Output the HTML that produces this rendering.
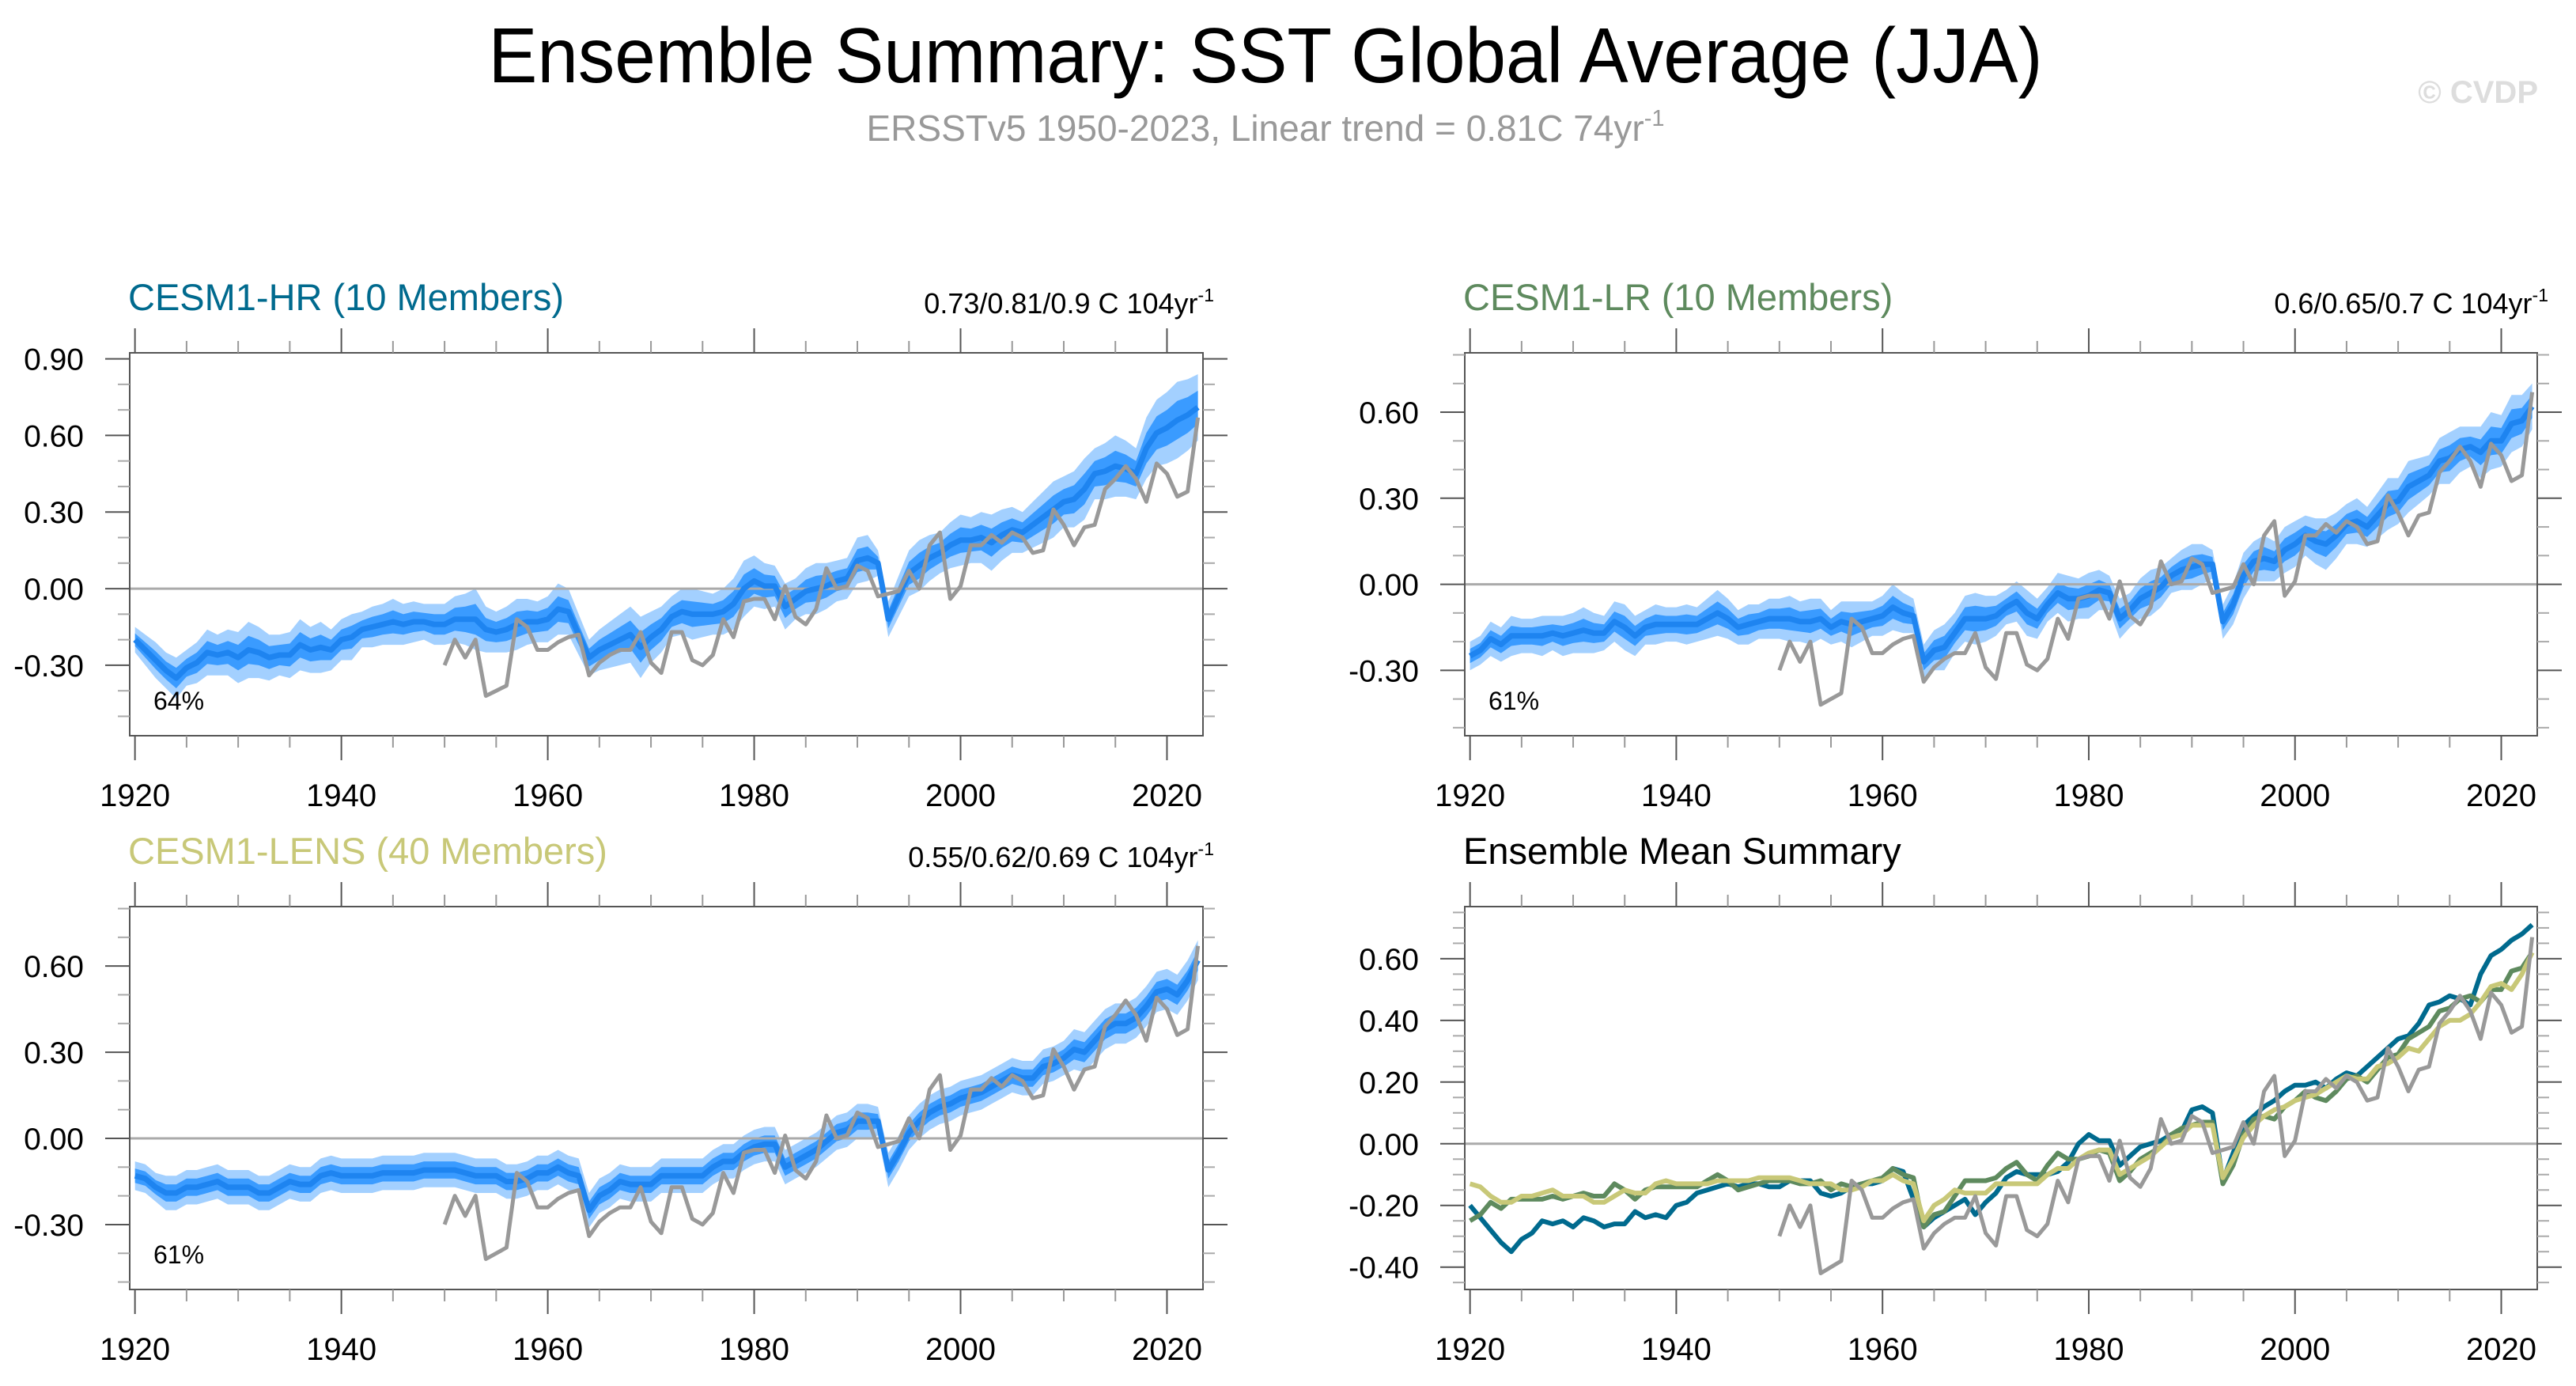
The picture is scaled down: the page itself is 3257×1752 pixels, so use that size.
<!DOCTYPE html>
<html><head><meta charset="utf-8"><style>
html,body{margin:0;padding:0;background:#fff}
svg{display:block;font-family:"Liberation Sans",sans-serif}
</style></head><body>
<svg id="chart" width="3257" height="1752" viewBox="0 0 3257 1752" xmlns="http://www.w3.org/2000/svg">
<rect x="0" y="0" width="3257" height="1752" fill="#fff"/>
<text x="1600" y="104" font-size="98" text-anchor="middle" textLength="1965" lengthAdjust="spacingAndGlyphs" fill="#000">Ensemble Summary: SST Global Average (JJA)</text>
<text x="1600" y="178" font-size="46" text-anchor="middle" fill="#999">ERSSTv5 1950-2023, Linear trend = 0.81C 74yr<tspan dy="-19" font-size="29">-1</tspan></text>
<text x="3209" y="130" font-size="40" text-anchor="end" fill="#ddd" font-weight="bold">© CVDP</text>
<g id="plots"></g>
</svg>
<script>
const years = []; for (let y = 1920; y <= 2023; y++) years.push(y);
const obsYears = []; for (let y = 1950; y <= 2023; y++) obsYears.push(y);
const obs = [-0.30,-0.20,-0.27,-0.20,-0.42,-0.40,-0.38,-0.12,-0.15,-0.24,
-0.24,-0.21,-0.19,-0.18,-0.34,-0.29,-0.26,-0.24,-0.24,-0.17,
-0.29,-0.33,-0.17,-0.17,-0.28,-0.30,-0.26,-0.12,-0.19,-0.05,
-0.04,-0.04,-0.12,0.01,-0.11,-0.14,-0.08,0.08,0.00,0.01,
0.09,0.07,-0.03,-0.02,-0.01,0.07,0.00,0.17,0.22,-0.04,
0.01,0.17,0.17,0.21,0.18,0.22,0.20,0.14,0.15,0.31,
0.25,0.17,0.24,0.25,0.39,0.43,0.48,0.43,0.34,0.49,
0.45,0.36,0.38,0.67];
const hrMean = [-0.20,-0.24,-0.28,-0.32,-0.35,-0.31,-0.29,-0.25,-0.26,-0.25,
-0.27,-0.24,-0.25,-0.27,-0.26,-0.26,-0.22,-0.24,-0.23,-0.24,
-0.20,-0.19,-0.16,-0.15,-0.14,-0.13,-0.14,-0.13,-0.13,-0.14,
-0.14,-0.12,-0.12,-0.12,-0.16,-0.17,-0.16,-0.14,-0.13,-0.13,
-0.12,-0.08,-0.09,-0.18,-0.27,-0.24,-0.22,-0.20,-0.18,-0.23,
-0.19,-0.16,-0.11,-0.09,-0.10,-0.10,-0.10,-0.09,-0.06,0.00,
0.03,0.01,0.01,-0.07,-0.04,-0.01,0.00,0.01,0.03,0.04,
0.11,0.12,0.10,-0.12,-0.03,0.06,0.09,0.12,0.14,0.17,
0.19,0.19,0.20,0.18,0.21,0.23,0.22,0.25,0.28,0.31,
0.34,0.35,0.39,0.45,0.46,0.48,0.47,0.45,0.55,0.61,
0.63,0.66,0.68,0.71];
const lrMean = [-0.25,-0.23,-0.19,-0.21,-0.18,-0.18,-0.18,-0.18,-0.17,-0.18,
-0.17,-0.16,-0.17,-0.17,-0.13,-0.15,-0.18,-0.15,-0.14,-0.14,
-0.14,-0.14,-0.14,-0.12,-0.10,-0.12,-0.15,-0.14,-0.13,-0.12,
-0.12,-0.12,-0.13,-0.13,-0.12,-0.15,-0.13,-0.14,-0.13,-0.12,
-0.11,-0.08,-0.10,-0.11,-0.27,-0.23,-0.22,-0.17,-0.12,-0.12,
-0.12,-0.11,-0.08,-0.06,-0.10,-0.12,-0.07,-0.03,-0.05,-0.05,
-0.04,-0.02,-0.03,-0.12,-0.09,-0.05,-0.03,-0.01,0.03,0.05,
0.06,0.07,0.07,-0.13,-0.07,0.03,0.08,0.09,0.08,0.12,
0.14,0.17,0.15,0.14,0.17,0.21,0.22,0.20,0.24,0.28,
0.29,0.34,0.36,0.38,0.43,0.44,0.47,0.48,0.46,0.50,
0.50,0.56,0.57,0.62];
const lensMean = [-0.13,-0.14,-0.17,-0.19,-0.19,-0.17,-0.17,-0.16,-0.15,-0.17,
-0.17,-0.17,-0.19,-0.19,-0.17,-0.15,-0.16,-0.16,-0.13,-0.12,
-0.13,-0.13,-0.13,-0.13,-0.12,-0.12,-0.12,-0.12,-0.11,-0.11,
-0.11,-0.11,-0.12,-0.13,-0.13,-0.13,-0.15,-0.15,-0.14,-0.12,
-0.12,-0.10,-0.12,-0.13,-0.25,-0.20,-0.18,-0.15,-0.16,-0.16,
-0.16,-0.13,-0.13,-0.13,-0.13,-0.13,-0.10,-0.08,-0.08,-0.05,
-0.03,-0.02,-0.02,-0.10,-0.08,-0.06,-0.04,-0.01,0.02,0.03,
0.06,0.06,0.06,-0.11,-0.05,0.02,0.06,0.09,0.11,0.12,
0.14,0.15,0.16,0.18,0.20,0.22,0.21,0.21,0.25,0.26,
0.28,0.31,0.30,0.34,0.38,0.40,0.40,0.42,0.46,0.51,
0.52,0.50,0.55,0.62];
const hrSpread = [.05,.06,.07,.07,.08,.07,.08,.09,.08,.09,
.10,.11,.10,.09,.08,.09,.10,.09,.10,.08,
.08,.09,.07,.08,.08,.09,.08,.08,.07,.08,
.08,.09,.10,.12,.09,.08,.09,.10,.09,.08,
.09,.10,.09,.08,.07,.08,.09,.10,.11,.12,
.10,.09,.08,.09,.10,.09,.08,.09,.10,.11,
.10,.09,.08,.09,.08,.09,.10,.09,.08,.08,
.09,.09,.05,.07,.08,.09,.10,.09,.08,.09,
.10,.09,.10,.11,.10,.09,.08,.09,.10,.11,
.10,.11,.12,.10,.11,.12,.11,.10,.12,.13,
.14,.15,.14,.13];
const lrSpread = [.05,.05,.06,.06,.07,.06,.06,.07,.06,.07,
.07,.08,.07,.06,.07,.08,.07,.06,.07,.06,
.06,.07,.06,.07,.08,.07,.06,.07,.06,.07,
.07,.08,.07,.08,.07,.06,.07,.08,.07,.06,
.07,.08,.07,.06,.06,.07,.08,.07,.08,.09,
.08,.07,.06,.07,.08,.07,.06,.07,.08,.07,
.08,.07,.06,.07,.06,.07,.08,.07,.06,.07,
.08,.07,.05,.06,.07,.08,.07,.08,.07,.08,
.08,.07,.08,.09,.08,.07,.08,.07,.08,.09,
.08,.09,.08,.07,.08,.09,.08,.07,.09,.10,
.09,.10,.09,.08];
const lensSpread = [.05,.05,.05,.06,.06,.06,.06,.06,.06,.06,
.06,.06,.06,.06,.06,.06,.06,.06,.06,.06,
.06,.06,.06,.06,.06,.06,.06,.06,.06,.06,
.06,.06,.06,.06,.06,.06,.06,.06,.06,.06,
.06,.06,.06,.06,.06,.06,.06,.06,.06,.06,
.06,.06,.06,.06,.06,.06,.06,.06,.06,.06,
.06,.06,.06,.06,.06,.06,.06,.06,.06,.06,
.06,.06,.05,.06,.06,.06,.06,.06,.06,.06,
.06,.06,.06,.06,.06,.06,.06,.06,.06,.06,
.06,.07,.07,.07,.07,.07,.07,.07,.07,.07,
.07,.07,.07,.07];
const xTickLabels = ["1920","1940","1960","1980","2000","2020"];
const hrYTicks = ["-0.30","0.00","0.30","0.60","0.90"];
const lrYTicks = ["-0.30","0.00","0.30","0.60"];
const meanYTicks = ["-0.40","-0.20","0.00","0.20","0.40","0.60"];

const NS = "http://www.w3.org/2000/svg";
const root = document.getElementById('plots');
function mk(tag, attrs, parent) {
  const e = document.createElementNS(NS, tag);
  for (const k in attrs) e.setAttribute(k, attrs[k]);
  (parent || root).appendChild(e);
  return e;
}
const X0 = 1919.49, X1 = 2023.49;

function panel(cfg) {
  const g = mk('g', {});
  
  
  const sx = v => cfg.l + (v - X0) / (X1 - X0) * (cfg.r - cfg.l);
  const sy = v => cfg.b - (v - cfg.ymin) / (cfg.ymax - cfg.ymin) * (cfg.b - cfg.t);
  if (cfg.mean && cfg.spread) {
    [[1, '#a3d0ff', 'outer-spread-band'], [0.5, '#3a9bff', 'inner-spread-band']].forEach(([f, col, nm]) => {
      let d = '';
      years.forEach((y, i) => { d += (i ? 'L' : 'M') + sx(y).toFixed(1) + ',' + sy(cfg.mean[i] + cfg.spread[i] * f).toFixed(1); });
      for (let i = years.length - 1; i >= 0; i--) d += 'L' + sx(years[i]).toFixed(1) + ',' + sy(cfg.mean[i] - cfg.spread[i] * f).toFixed(1);
      const p = mk('path', { d: d + 'Z', fill: col, stroke: 'none' }, g);
      
      
    });
  }
  const z = mk('line', { x1: cfg.l, x2: cfg.r, y1: sy(0), y2: sy(0), stroke: '#aaa', 'stroke-width': 3 }, g);
  
  
  function line(xs, vals, col, w, nm) {
    const d = vals.map((v, i) => (i ? 'L' : 'M') + sx(xs[i]).toFixed(1) + ',' + sy(v).toFixed(1)).join('');
    const p = mk('path', { d: d, fill: 'none', stroke: col, 'stroke-width': w, 'stroke-linejoin': 'round' }, g);
    
    
  }
  if (cfg.mean && cfg.spread) line(years, cfg.mean, '#1e84f0', 7, 'ensemble-mean-line');
  if (cfg.lines) cfg.lines.forEach(s => line(years, s.v, s.c, 6, s.n));
  line(obsYears, obs, '#999', 5, 'observed-ersst-line');
  const bx = mk('rect', { x: cfg.l, y: cfg.t, width: cfg.r - cfg.l, height: cfg.b - cfg.t, fill: 'none', stroke: '#555', 'stroke-width': 2 }, g);
  
  
  for (let y = 1920; y <= 2020; y += 5) {
    const maj = (y % 20 === 0);
    const L = maj ? 31 : 15, c = maj ? '#555' : '#999';
    mk('line', { x1: sx(y), x2: sx(y), y1: cfg.t, y2: cfg.t - L, stroke: c, 'stroke-width': 2 }, g);
    mk('line', { x1: sx(y), x2: sx(y), y1: cfg.b, y2: cfg.b + L, stroke: c, 'stroke-width': 2 }, g);
  }
  xTickLabels.forEach(lbl => {
    const t = mk('text', { x: sx(+lbl), y: cfg.b + 89, 'font-size': 40, 'text-anchor': 'middle', fill: '#000' }, g);
    t.textContent = lbl;
    
    
  });
  const start = Math.ceil(cfg.ymin / cfg.minor - 1e-6);
  for (let k = start; k * cfg.minor <= cfg.ymax + 1e-9; k++) {
    const v = k * cfg.minor;
    const isMaj = Math.abs(v / cfg.major - Math.round(v / cfg.major)) < 1e-6;
    const L = isMaj ? 31 : 15, c = isMaj ? '#555' : '#aaa';
    mk('line', { x1: cfg.l, x2: cfg.l - L, y1: sy(v), y2: sy(v), stroke: c, 'stroke-width': 2 }, g);
    mk('line', { x1: cfg.r, x2: cfg.r + L, y1: sy(v), y2: sy(v), stroke: c, 'stroke-width': 2 }, g);
  }
  cfg.yTicks.forEach(lbl => {
    const t = mk('text', { x: cfg.l - 58, y: sy(+lbl) + 14, 'font-size': 39, 'text-anchor': 'end', fill: '#000' }, g);
    t.textContent = lbl;
    
    
  });
  const tt = mk('text', { x: cfg.l - 2, y: cfg.t - 54, 'font-size': 47, fill: cfg.titleColor }, g);
  tt.textContent = cfg.title;
  
  
  if (cfg.trend) {
    const tr = mk('text', { x: cfg.r + 14, y: cfg.t - 50, 'font-size': 36, 'text-anchor': 'end', fill: '#000' }, g);
    tr.textContent = cfg.trend;
    const sp = mk('tspan', { dy: -15, 'font-size': 23 }, tr);
    sp.textContent = '-1';
    
    
  }
  if (cfg.pct) {
    const pt = mk('text', { x: cfg.l + 30, y: cfg.b - 33, 'font-size': 32, fill: '#000' }, g);
    pt.textContent = cfg.pct;
    
    
  }
}

panel({ name: 'cesm1-hr-panel', l: 164, r: 1521, t: 446, b: 930, ymin: -0.576, ymax: 0.9235, major: 0.3, minor: 0.1,
  yTicks: hrYTicks, mean: hrMean, spread: hrSpread, title: 'CESM1-HR (10 Members)', titleColor: '#006a8e',
  trend: '0.73/0.81/0.9 C 104yr', pct: '64%' });
panel({ name: 'cesm1-lr-panel', l: 1852, r: 3208, t: 446, b: 930, ymin: -0.528, ymax: 0.807, major: 0.3, minor: 0.1,
  yTicks: lrYTicks, mean: lrMean, spread: lrSpread, title: 'CESM1-LR (10 Members)', titleColor: '#5e8a5e',
  trend: '0.6/0.65/0.7 C 104yr', pct: '61%' });
panel({ name: 'cesm1-lens-panel', l: 164, r: 1521, t: 1146, b: 1630, ymin: -0.526, ymax: 0.807, major: 0.3, minor: 0.1,
  yTicks: lrYTicks, mean: lensMean, spread: lensSpread, title: 'CESM1-LENS (40 Members)', titleColor: '#c8c878',
  trend: '0.55/0.62/0.69 C 104yr', pct: '61%' });
panel({ name: 'ensemble-mean-summary-panel', l: 1852, r: 3208, t: 1146, b: 1630, ymin: -0.4726, ymax: 0.769, major: 0.2, minor: 0.05,
  yTicks: meanYTicks, title: 'Ensemble Mean Summary', titleColor: '#000',
  lines: [{ v: hrMean, c: '#006a8e', n: 'cesm1-hr-mean-line' }, { v: lrMean, c: '#5e8a5e', n: 'cesm1-lr-mean-line' }, { v: lensMean, c: '#c8c878', n: 'cesm1-lens-mean-line' }] });
</script>
</body></html>
